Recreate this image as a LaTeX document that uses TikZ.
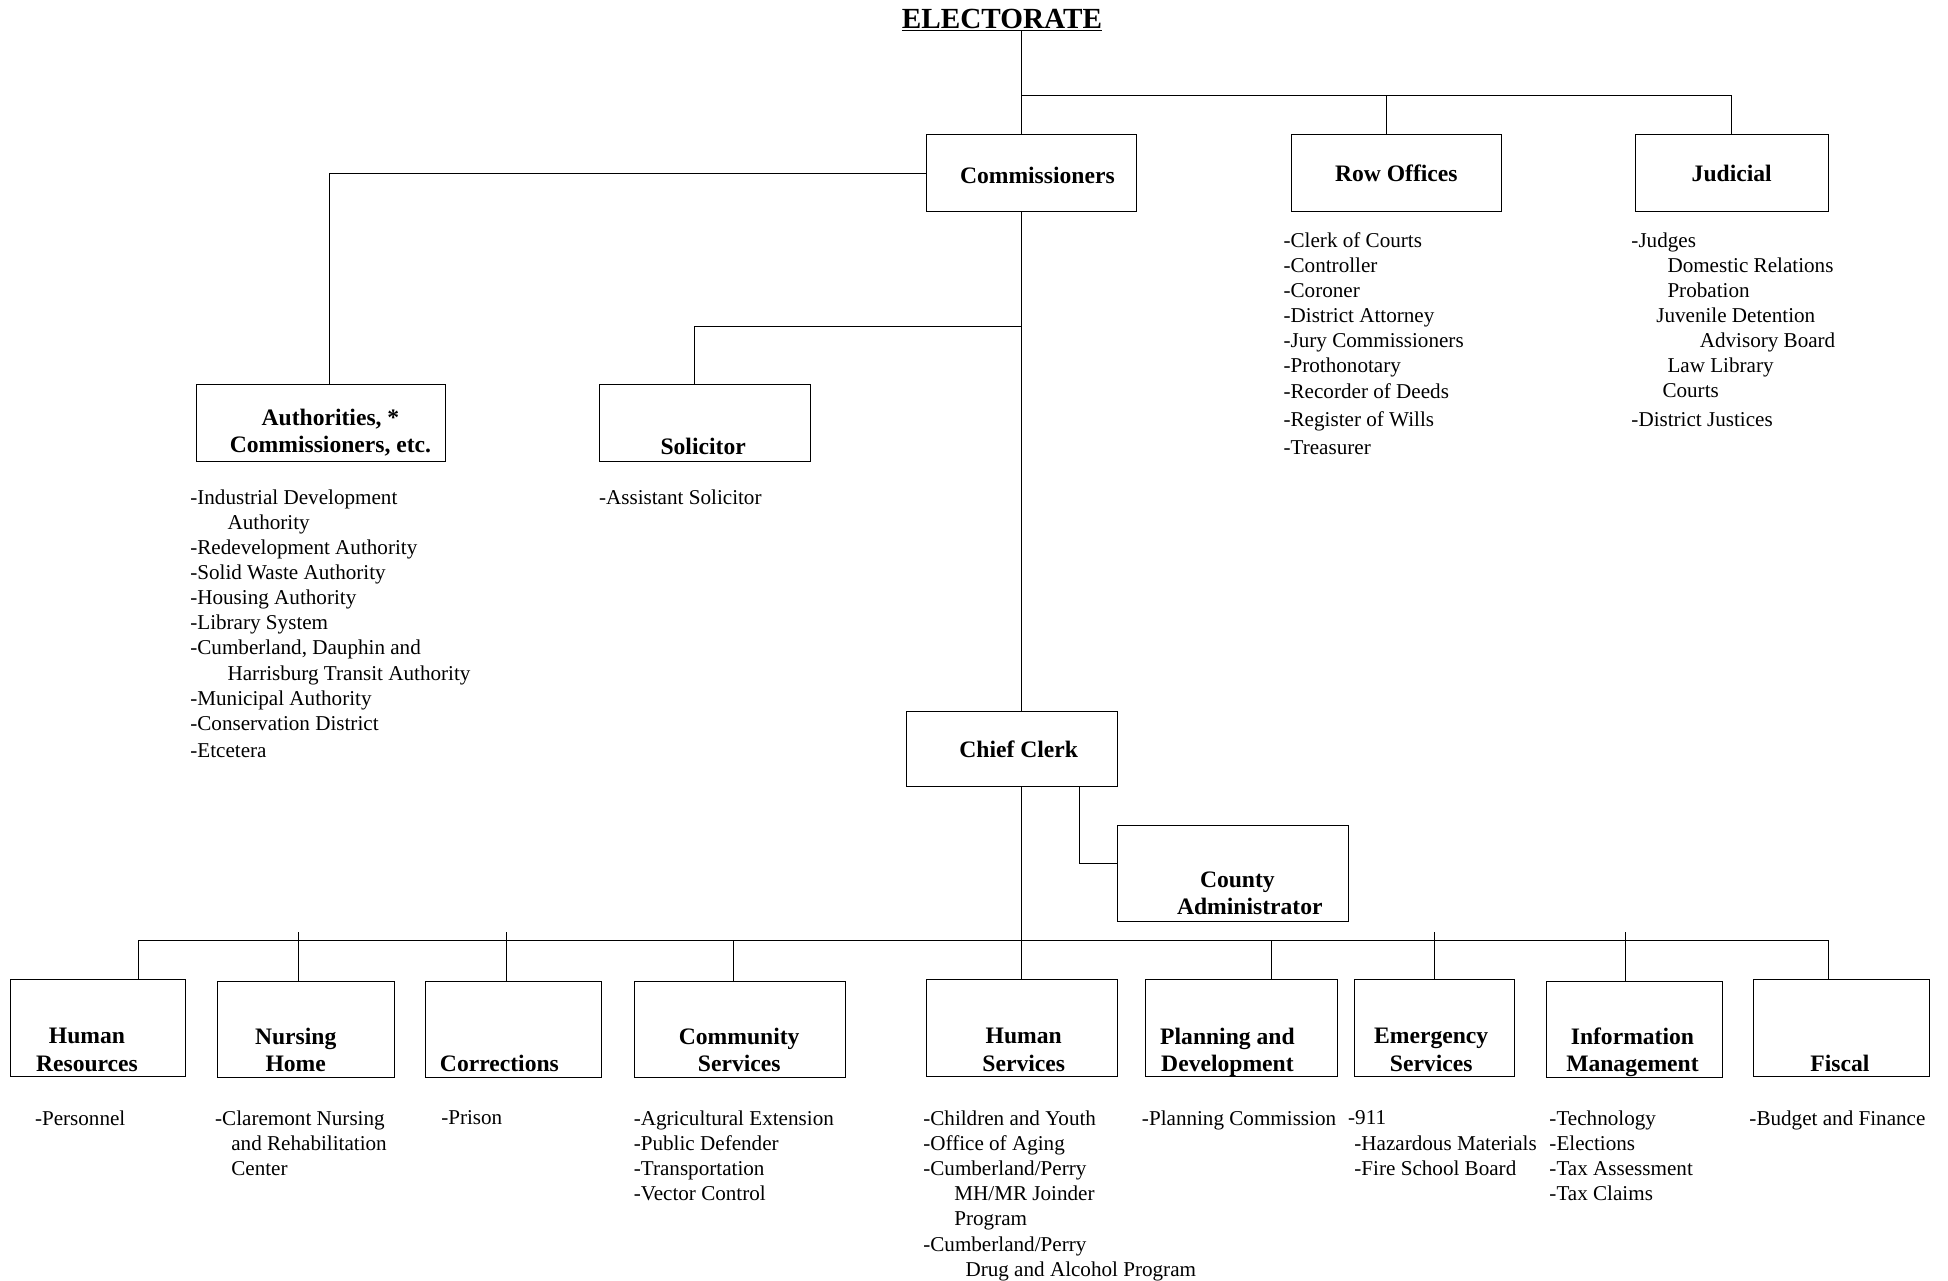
\documentclass[tikz,border=0pt]{standalone}
\usepackage{fontspec}
\setmainfont{Liberation Serif}
\newcommand{\orgtitlefont}{\fontsize{23.5}{26}\selectfont\bfseries}
\newcommand{\orgheadfont}{\fontsize{19}{22}\selectfont\bfseries}
\newcommand{\orglistfont}{\fontsize{17}{20.2}\selectfont}

\begin{document}
\begin{tikzpicture}[
  x=1pt, y=-1pt,
  unit/.style={draw, line width=0.8pt, anchor=north west, inner sep=0pt, font=\orgheadfont, align=center},
  head/.style={font=\orgheadfont, align=center, inner sep=0pt},
  list/.style={font=\orglistfont, align=left, anchor=north west, inner sep=0pt},
  link/.style={line width=0.8pt}
]
\useasboundingbox (0,0) rectangle (1568,1031);

% top level
\node[font=\orgtitlefont, inner sep=0pt] (elect) at (806.5,16) {\underline{ELECTORATE}};
\node[unit, minimum width=169pt, minimum height=62pt] (comm) at (745,108) {};
\node[head] (commhead) at (835,141) {Commissioners};
\node[unit, minimum width=169pt, minimum height=62pt] (row) at (1039,108) {Row Offices};
\node[unit, minimum width=155pt, minimum height=62pt] (jud) at (1316,108) {Judicial};

\node[list] (rowlist) at (1033,187) {-Clerk of Courts\\-Controller\\-Coroner\\-District Attorney\\-Jury Commissioners\\-Prothonotary\\-Recorder of Deeds\\[2.5pt]-Register of Wills\\[2.5pt]-Treasurer};
\node[list] (judlist) at (1313,187) {-Judges\\\hspace*{29pt}Domestic Relations\\\hspace*{29pt}Probation\\\hspace*{20pt}Juvenile Detention\\\hspace*{55pt}Advisory Board\\\hspace*{29pt}Law Library\\\hspace*{25pt}Courts\\[2.5pt]-District Justices};

% under the commissioners
\node[unit, minimum width=200pt, minimum height=62pt] (auth) at (158,309) {};
\node[head] (authhead) at (266,348) {Authorities, *\\Commissioners, etc.};
\node[unit, minimum width=170pt, minimum height=62pt] (sol) at (482,309) {};
\node[head] (solhead) at (566,359) {Solicitor};

\node[list] (authlist) at (153,394) {-Industrial Development\\\hspace*{30pt}Authority\\-Redevelopment Authority\\-Solid Waste Authority\\-Housing Authority\\-Library System\\-Cumberland, Dauphin and\\\hspace*{30pt}Harrisburg Transit Authority\\-Municipal Authority\\-Conservation District\\[2pt]-Etcetera};
\node[list] (sollist) at (482,394) {-Assistant Solicitor};

\node[unit, minimum width=170pt, minimum height=61pt] (chief) at (729,572) {};
\node[head] (chiefhead) at (820,603) {Chief Clerk};
\node[unit, minimum width=186pt, minimum height=77pt] (admin) at (899,664) {};
\node[head] (adminhead) at (1006,719) {\hspace*{-20pt}County\\Administrator};

% departments
\node[unit, minimum width=141pt, minimum height=78pt] (hr) at (8,788) {};
\node[head] (hrhead) at (70,845) {Human\\Resources};
\node[unit, minimum width=142pt, minimum height=77pt] (nh) at (175,790) {};
\node[head] (nhhead) at (238,845) {Nursing\\Home};
\node[unit, minimum width=142pt, minimum height=77pt] (cor) at (342,790) {};
\node[head] (corhead) at (402,856) {Corrections};
\node[unit, minimum width=170pt, minimum height=77pt] (cs) at (510,790) {};
\node[head] (cshead) at (595,845) {Community\\Services};
\node[unit, minimum width=154pt, minimum height=78pt] (hs) at (745,788) {};
\node[head] (hshead) at (824,845) {Human\\Services};
\node[unit, minimum width=154pt, minimum height=78pt] (pd) at (922,788) {};
\node[head] (pdhead) at (988,847) {Planning and\\Development};
\node[unit, minimum width=129pt, minimum height=78pt] (es) at (1090,788) {};
\node[head] (eshead) at (1152,845) {Emergency\\Services};
\node[unit, minimum width=142pt, minimum height=77pt] (im) at (1244,790) {};
\node[head] (imhead) at (1314,847) {Information\\Management};
\node[unit, minimum width=142pt, minimum height=78pt] (fis) at (1411,788) {};
\node[head] (fishead) at (1481,856) {Fiscal};

\node[list] (hrlist) at (28,894) {-Personnel};
\node[list] (nhlist) at (173,894) {-Claremont Nursing\\\hspace*{13pt}and Rehabilitation\\\hspace*{13pt}Center};
\node[list] (corlist) at (355,894) {-Prison};
\node[list] (cslist) at (510,894) {-Agricultural Extension\\-Public Defender\\-Transportation\\-Vector Control};
\node[list] (hslist) at (743,894) {-Children and Youth\\-Office of Aging\\-Cumberland/Perry\\\hspace*{25pt}MH/MR Joinder\\\hspace*{25pt}Program\\-Cumberland/Perry\\\hspace*{34pt}Drug and Alcohol Program};
\node[list] (pdlist) at (919,894) {-Planning Commission};
\node[list] (eslist) at (1085,894) {-911\\\hspace*{5pt}-Hazardous Materials\\\hspace*{5pt}-Fire School Board};
\node[list] (imlist) at (1247,894) {-Technology\\-Elections\\-Tax Assessment\\-Tax Claims};
\node[list] (fislist) at (1408,894) {-Budget and Finance};

% connectors
\coordinate (spine) at (822,0);
\coordinate (top) at (822,77);
\coordinate (split) at (822,263);
\coordinate (bus) at (0,757);
\coordinate (stub) at (0,750);
\draw[link] (elect.south -| spine) -- (comm.north -| spine);
\draw[link] (top) -| (jud.north);
\draw[link] ([xshift=-7.5pt]row.north) |- (top);
\draw[link] (comm.west) -| ([xshift=7pt]auth.north);
\draw[link] (comm.south -| spine) -- (chief.north -| spine);
\draw[link] (split) -| ([xshift=-8pt]sol.north);
\draw[link] (chief.south -| spine) -- (hs.north -| spine);
\draw[link] ([xshift=-31pt]chief.south east) |- ([yshift=7.5pt]admin.west);
\draw[link] ([xshift=32.5pt]hr.north) |- ([xshift=-11pt]fis.north |- bus) -- ([xshift=-11pt]fis.north);
\draw[link] ([xshift=-6pt]nh.north) -- ([xshift=-6pt]nh.north |- stub);
\draw[link] ([xshift=-6pt]cor.north) -- ([xshift=-6pt]cor.north |- stub);
\draw[link] ([xshift=-5pt]cs.north) -- ([xshift=-5pt]cs.north |- bus);
\draw[link] ([xshift=24pt]pd.north) -- ([xshift=24pt]pd.north |- bus);
\draw[link] (es.north) -- (es.north |- stub);
\draw[link] ([xshift=-7pt]im.north) -- ([xshift=-7pt]im.north |- stub);
\end{tikzpicture}
\end{document}
